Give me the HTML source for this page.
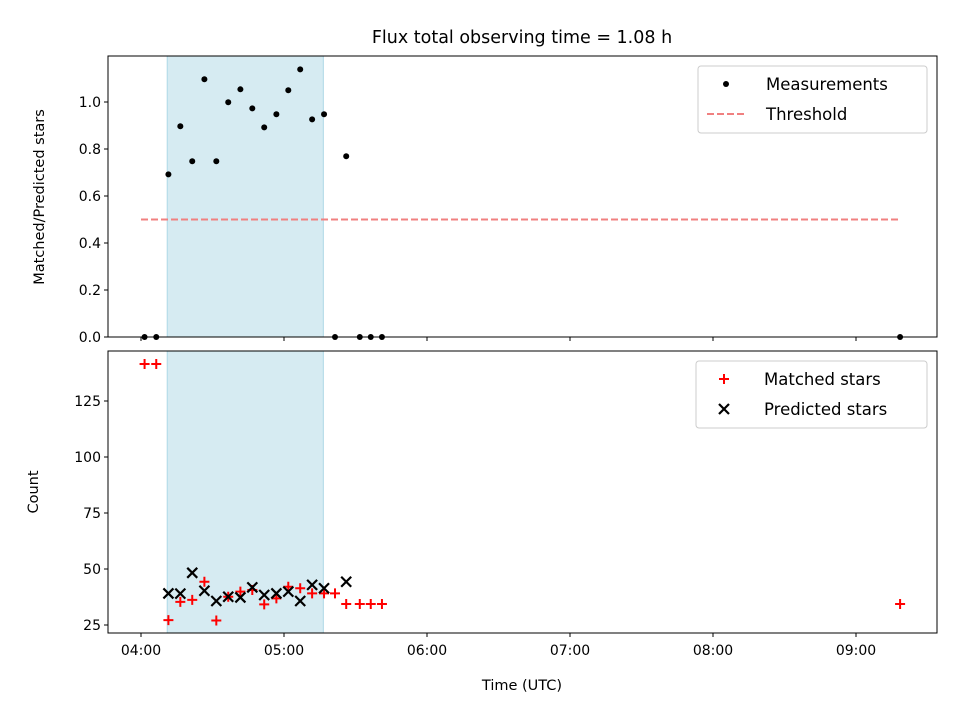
<!DOCTYPE html>
<html><head><meta charset="utf-8"><style>
body{margin:0;background:#fff}
svg{font-family:"DejaVu Sans","Liberation Sans",sans-serif;display:block}
</style></head><body>
<svg id="c" width="960" height="720" xmlns="http://www.w3.org/2000/svg"></svg>
<script>
// times in minutes after 04:00
const measTimes=[1.5,6.4,11.5,16.5,21.5,26.6,31.6,36.6,41.7,46.7,51.7,56.8,61.8,66.8,71.8,76.8,81.4,86.1,91.8,96.4,101.1,318.5];
const measValues=[0,0,0.692,0.897,0.748,1.097,0.748,0.999,1.054,0.973,0.892,0.948,1.05,1.139,0.926,0.948,0,0.769,0,0,0,0];
const matchedValues=[141.5,141.5,27.2,35.3,36.2,44.3,27,37.6,39.9,40.6,34.2,36.9,42.1,41.4,39.1,39.1,39.1,34.4,34.4,34.4,34.4,34.4];
const predTimes=[11.5,16.5,21.5,26.6,31.6,36.6,41.7,46.7,51.7,56.8,61.8,66.8,71.8,76.8,86.1];
const predValues=[39.1,39,48.3,40.3,35.7,37.6,37.3,41.8,38.4,39.1,39.9,35.7,42.9,41.4,44.3];
const threshold=0.5;
const span=[11.0,76.5];
const xTickLabels=["04:00","05:00","06:00","07:00","08:00","09:00"];
const topTicks=[0,0.2,0.4,0.6,0.8,1.0];
const botTicks=[25,50,75,100,125];

const NS="http://www.w3.org/2000/svg";
const svg=document.getElementById('c');
function el(t,a,p){const e=document.createElementNS(NS,t);for(const k in a)e.setAttribute(k,a[k]);(p||svg).appendChild(e);return e;}
const L=108,R=937,T1=56,B1=337,T2=351,B2=633;
const x=m=>141+m*143/60;
const y1=v=>337-v*235;
const y2=v=>681-v*2.24;

let t=el('text',{x:522,y:43,'text-anchor':'middle','font-size':17.5});t.textContent="Flux total observing time = 1.08 h";


[[T1,B1,'top-panel'],[T2,B2,'bottom-panel']].forEach(([a,b,n])=>{
  const r=el('rect',{x:x(span[0]),y:a,width:x(span[1])-x(span[0]),height:b-a,fill:'#add8e6','fill-opacity':0.5,stroke:'#add8e6'});
  
});
let th=el('line',{x1:x(0),x2:x(318.5),y1:y1(threshold),y2:y1(threshold),stroke:'#f08080','stroke-width':2,'stroke-dasharray':'7,3'});

measTimes.forEach((m,i)=>{const c=el('circle',{cx:x(m),cy:y1(measValues[i]),r:3,fill:'#000'});
});
measTimes.forEach((m,i)=>{const cx=x(m),cy=y2(matchedValues[i]);
const p=el('path',{d:`M${cx-5} ${cy}H${cx+5}M${cx} ${cy-5}V${cy+5}`,stroke:'red','stroke-width':2});
});
predTimes.forEach((m,i)=>{const cx=x(m),cy=y2(predValues[i]);
const p=el('path',{d:`M${cx-5} ${cy-5}L${cx+5} ${cy+5}M${cx-5} ${cy+5}L${cx+5} ${cy-5}`,stroke:'#000','stroke-width':2.2});
});

[[T1,B1],[T2,B2]].forEach(([a,b])=>{const f=el('rect',{x:L,y:a,width:R-L,height:b-a,fill:'none',stroke:'#000','stroke-width':1});
});
xTickLabels.forEach((lab,i)=>{const xx=x(i*60);
el('line',{x1:xx,x2:xx,y1:B1,y2:B1+4,stroke:'#000'});
el('line',{x1:xx,x2:xx,y1:B2,y2:B2+4,stroke:'#000'});
const tx=el('text',{x:xx,y:B2+22,'text-anchor':'middle','font-size':14});tx.textContent=lab;
});
topTicks.forEach(v=>{const yy=y1(v);el('line',{x1:L-4,x2:L,y1:yy,y2:yy,stroke:'#000'});
const tx=el('text',{x:L-7,y:yy+5,'text-anchor':'end','font-size':14});tx.textContent=v.toFixed(1);
});
botTicks.forEach(v=>{const yy=y2(v);el('line',{x1:L-4,x2:L,y1:yy,y2:yy,stroke:'#000'});
const tx=el('text',{x:L-7,y:yy+5,'text-anchor':'end','font-size':14});tx.textContent=v;
});
let xl=el('text',{x:522,y:690,'text-anchor':'middle','font-size':14.5});xl.textContent="Time (UTC)";

let yl=el('text',{x:0,y:0,'text-anchor':'middle','font-size':14.5,transform:`translate(44,197) rotate(-90)`});yl.textContent="Matched/Predicted stars";

let yl2=el('text',{x:0,y:0,'text-anchor':'middle','font-size':14.5,transform:`translate(38,492) rotate(-90)`});yl2.textContent="Count";


function legend(x0,y0,w,items,n){
  const g=el('g',{});
  el('rect',{x:x0,y:y0,width:w,height:67,rx:3,fill:'#fff','fill-opacity':0.8,stroke:'#ccc'},g);
  items.forEach((it,i)=>{const cy=y0+18+i*30;it[0](g,x0+28,cy);
    const tx=el('text',{x:x0+68,y:cy+6,'font-size':16.5},g);tx.textContent=it[1];
    });
}
legend(698,66,229,[[(g,cx,cy)=>el('circle',{cx,cy,r:3,fill:'#000'},g),"Measurements"],
 [(g,cx,cy)=>el('line',{x1:cx-19,x2:cx+21,y1:cy,y2:cy,stroke:'#f08080','stroke-width':2,'stroke-dasharray':'7,3'},g),"Threshold"]],'top-legend');
legend(696,361,231,[[(g,cx,cy)=>el('path',{d:`M${cx-5} ${cy}H${cx+5}M${cx} ${cy-5}V${cy+5}`,stroke:'red','stroke-width':2},g),"Matched stars"],
 [(g,cx,cy)=>el('path',{d:`M${cx-5} ${cy-5}L${cx+5} ${cy+5}M${cx-5} ${cy+5}L${cx+5} ${cy-5}`,stroke:'#000','stroke-width':2.2},g),"Predicted stars"]],'bottom-legend');
</script>
</body></html>
